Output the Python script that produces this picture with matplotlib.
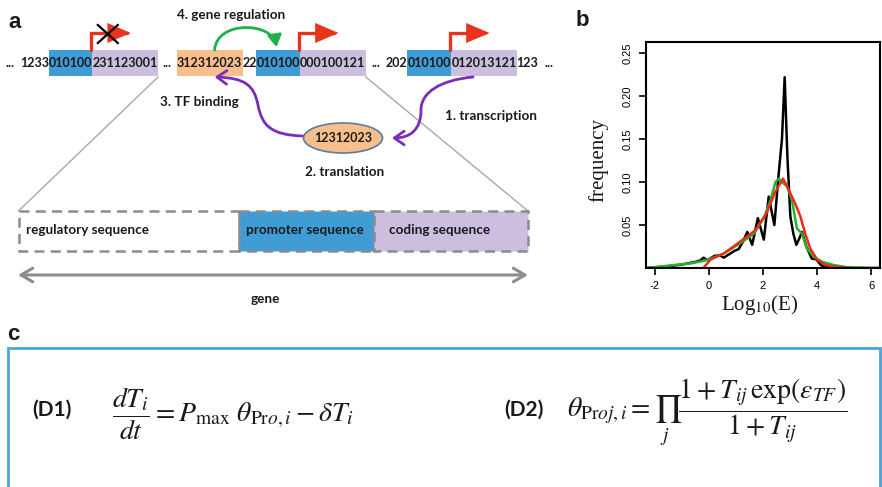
import matplotlib
matplotlib.use("Agg")
import matplotlib.pyplot as plt
from matplotlib.path import Path
from matplotlib.patches import FancyArrowPatch, Rectangle, Ellipse

plt.rcParams['mathtext.fontset'] = 'stix'
plt.rcParams['axes.unicode_minus'] = False

# ---------------- data for panel b ----------------
black_x = [-2.3, -1.5, -1.0, -0.5, -0.3, -0.2, -0.05, 0.2, 0.4, 0.55, 0.75, 0.95, 1.1, 1.25,
           1.42, 1.6, 1.81, 2.03, 2.21, 2.42, 2.58, 2.70, 2.80, 2.90, 3.01, 3.12, 3.23, 3.35,
           3.44, 3.6, 3.80, 3.97, 4.15, 4.4, 5.0, 6.3]
black_y = [0.0, 0.002, 0.004, 0.007, 0.009, 0.012, 0.009, 0.014, 0.015, 0.012, 0.016, 0.020,
           0.022, 0.030, 0.042, 0.027, 0.058, 0.033, 0.083, 0.050, 0.110, 0.150, 0.222, 0.130,
           0.060, 0.040, 0.027, 0.035, 0.042, 0.025, 0.011, 0.010, 0.003, 0.001, 0.0, 0.0]
green_x = [-2.3, -1.27, -0.66, -0.05, 0.56, 1.17, 1.66, 2.03, 2.28, 2.46, 2.58, 2.70, 2.89,
           3.07, 3.25, 3.44, 3.62, 3.87, 4.17, 4.60, 5.09, 6.0, 6.3]
green_y = [0.0, 0.0035, 0.0054, 0.0093, 0.017, 0.029, 0.040, 0.058, 0.079, 0.100, 0.104, 0.100,
           0.095, 0.079, 0.046, 0.040, 0.023, 0.013, 0.0074, 0.0035, 0.001, 0.0, 0.0]
red_x = [-0.20, 0.07, 0.56, 1.17, 1.72, 2.15, 2.46, 2.74, 2.95, 3.19, 3.38, 3.56, 3.74, 3.99,
         4.29, 4.84, 5.3]
red_y = [0.0, 0.010, 0.017, 0.031, 0.044, 0.065, 0.089, 0.104, 0.091, 0.075, 0.060, 0.040,
         0.023, 0.010, 0.0035, 0.0005, 0.0]
x_ticks = [-2, 0, 2, 4, 6]
y_ticks = [0.05, 0.10, 0.15, 0.20, 0.25]
y_tick_labels = ["0.05", "0.10", "0.15", "0.20", "0.25"]

# ---------------- text content for panel a ----------------
row1_pieces = ["...", "1233", "010100", "231123001"]
row1_kinds = [None, None, 'blue', 'purple']
row2_pieces = ["...", "312312023", "22", "010100", "000100121", "..."]
row2_kinds = [None, 'orange', None, 'blue', 'purple', None]
row3_pieces = ["202", "010100", "012013121", "123", "..."]
row3_kinds = [None, 'blue', 'purple', None, None]
protein_seq = "12312023"
step_labels = ["1. transcription", "2. translation", "3. TF binding", "4. gene regulation"]
gene_parts = ["regulatory sequence", "promoter sequence", "coding sequence"]

# ---------------- colours / layout ----------------
COLORS = {'blue': '#3F9CD4', 'purple': '#CBBEDE', 'orange': '#F8BF8C'}
BLUE, PURPLE, ORANGE = COLORS['blue'], COLORS['purple'], COLORS['orange']
RED = '#E8341C'
GREEN = '#1EB24A'
VIOLET = '#7A2DB8'
GRAY = '#8C8C8C'
TXT = '#1a1a1a'
SANS = 'Lato'

fig = plt.figure(figsize=(8.82, 4.87), dpi=100)
ax0 = fig.add_axes([0, 0, 1, 1])
ax0.set_xlim(0, 882)
ax0.set_ylim(487, 0)
ax0.axis('off')
renderer = fig.canvas.get_renderer()

FS = 9.0    # sequence digits
LFS = 9.7   # labels
BT, BB = 50, 76
SY = 63
GAP = 6     # space next to an ellipsis


def box(x0, x1, color, y0=BT, y1=BB, **kw):
    ax0.add_patch(Rectangle((x0, y0), x1 - x0, y1 - y0, facecolor=color, edgecolor='none',
                            zorder=1, **kw))


def row(x, pieces, kinds):
    """Lay the pieces out side by side; return the box extents of the coloured ones."""
    spans = []
    for i, (s, k) in enumerate(zip(pieces, kinds)):
        if s == "..." and i > 0:
            x += GAP
        t = ax0.text(x, SY, s, ha='left', va='center', fontsize=FS, fontweight='bold',
                     family=SANS, color=TXT, zorder=3)
        w = t.get_window_extent(renderer).width
        if k is not None:
            box(x - 0.3, x + w + 0.3, COLORS[k])
            spans.append((x - 0.3, x + w + 0.3))
        x = x + w
        if s == "..." and i == 0:
            x += GAP
    return spans


def label(x, y, s, ha='center'):
    ax0.text(x, y, s, ha=ha, va='center', fontsize=LFS, fontweight='bold', family=SANS, color=TXT)


r1 = row(5, row1_pieces, row1_kinds)
r2 = row(162, row2_pieces, row2_kinds)
r3 = row(386, row3_pieces, row3_kinds)

# gray zoom lines
GT, GB = 211, 251
ax0.plot([r1[1][1], 18.5], [77, GT], color='#A8A8A8', lw=1.0, zorder=0)
ax0.plot([r2[2][1], 528], [77, GT], color='#A8A8A8', lw=1.0, zorder=0)

# red promoter arrows at the promoter/coding boundary
for vx in [r1[0][1] - 2, r2[1][1] - 2, r3[0][1] - 2]:
    p = Path([(vx, BT), (vx, 33), (vx + 40, 33)], [Path.MOVETO, Path.LINETO, Path.LINETO])
    ax0.add_patch(FancyArrowPatch(path=p, arrowstyle='-|>,head_length=0.7,head_width=0.3',
                                  mutation_scale=18, color=RED, lw=2.4, joinstyle='miter'))
# black cross on the first promoter
cx = r1[0][1] + 15
ax0.plot([cx - 10, cx + 10], [25, 43], color='black', lw=1.6)
ax0.plot([cx - 10, cx + 10], [43, 25], color='black', lw=1.6)

# green regulation arc (orange site -> next promoter)
ox = (r2[0][0] + r2[0][1]) / 2 + 5
bx = r2[1][0] + 20
p = Path([(ox, BT), (ox + 2, 20), (bx - 4, 22), (bx, 47)],
         [Path.MOVETO, Path.CURVE4, Path.CURVE4, Path.CURVE4])
ax0.add_patch(FancyArrowPatch(path=p, arrowstyle='-|>,head_length=0.5,head_width=0.3',
                              mutation_scale=14, color=GREEN, lw=2.0))

# purple arrows
sx = r3[1][0] + 22
p = Path([(sx, 77), (sx - 32, 80), (421, 92), (421, 110), (421, 130), (410, 138), (392, 138)],
         [Path.MOVETO, Path.CURVE4, Path.CURVE4, Path.CURVE4, Path.CURVE4, Path.CURVE4, Path.CURVE4])
ax0.add_patch(FancyArrowPatch(path=p, arrowstyle='->,head_length=0.5,head_width=0.35',
                              mutation_scale=14, color=VIOLET, lw=2.0))
p = Path([(303, 136), (270, 135), (262, 125), (258, 105), (254, 85), (245, 78), (ox, 77)],
         [Path.MOVETO, Path.CURVE4, Path.CURVE4, Path.CURVE4, Path.CURVE4, Path.CURVE4, Path.CURVE4])
ax0.add_patch(FancyArrowPatch(path=p, arrowstyle='->,head_length=0.5,head_width=0.35',
                              mutation_scale=14, color=VIOLET, lw=2.0))

# protein ellipse
ax0.add_patch(Ellipse((343, 138), 79, 30, facecolor=ORANGE, edgecolor='#5B7BA0', lw=1.2))
ax0.text(343, 138, protein_seq, ha='center', va='center', fontsize=FS, fontweight='bold',
         family=SANS, color=TXT)

# step labels
label(491, 116, step_labels[0])
label(345, 172, step_labels[1])
label(199, 102, step_labels[2])
label(231, 15, step_labels[3])

# gene structure box
for (x0, x1, col) in [(18.5, 239, 'white'), (239, 374, BLUE), (374, 528, PURPLE)]:
    ax0.add_patch(Rectangle((x0, GT), x1 - x0, GB - GT, facecolor=col, edgecolor=GRAY,
                            lw=1.8, linestyle=(0, (4, 2.5))))
label(26, 230, gene_parts[0], 'left')
label(305, 230, gene_parts[1])
label(440, 230, gene_parts[2])
ax0.annotate('', xy=(18, 275), xytext=(528, 275),
             arrowprops=dict(arrowstyle='<->,head_length=0.6,head_width=0.35', color=GRAY, lw=2.2,
                             mutation_scale=14, shrinkA=0, shrinkB=0))
label(265, 299, "gene")

# panel letters
for (x, y, s) in [(15, 22, 'a'), (582, 20, 'b'), (13, 334, 'c')]:
    ax0.text(x, y, s, ha='center', va='center', fontsize=16, fontweight='bold',
             family='Liberation Sans', color=TXT)

# panel c frame and equations
ax0.plot([8, 8, 880, 880], [490, 348, 348, 490], color='#4FA3D9', lw=2.0, solid_joinstyle='miter')
ax0.text(52, 410, "(D1)", ha='center', va='center', fontsize=15, fontweight='bold', family=SANS, color=TXT)
ax0.text(524, 410, "(D2)", ha='center', va='center', fontsize=15, fontweight='bold', family=SANS, color=TXT)
ax0.text(112, 414, r'$\dfrac{dT_i}{dt} = P_{\max}\ \theta_{\mathrm{Pr}o,i} - \delta T_i$',
         ha='left', va='center', fontsize=20, color=TXT)
ax0.text(567, 412, r'$\theta_{\mathrm{Pr}oj,i} = \prod_j \dfrac{1+T_{ij}\,\exp(\varepsilon_{TF})}{1+T_{ij}}$',
         ha='left', va='center', fontsize=20, color=TXT)

# ---------------- panel b ----------------
L, R, T, B = 646, 880, 42, 268
axb = fig.add_axes([L / 882, 1 - B / 487, (R - L) / 882, (B - T) / 487])
axb.plot(black_x, black_y, color='black', lw=1.8)
axb.plot(green_x, green_y, color='#22B32A', lw=1.8)
axb.plot(red_x, red_y, color='#EE2A1B', lw=1.8)
axb.set_xlim(-2.32, 6.32)
axb.set_ylim(0, 0.263)
axb.set_xticks(x_ticks)
axb.set_xticklabels([str(v) for v in x_ticks])
axb.set_yticks(y_ticks)
axb.set_yticklabels(y_tick_labels)
for sp in axb.spines.values():
    sp.set_linewidth(1.5)
axb.tick_params(direction='out', length=5, width=1.2, pad=4.5, labelsize=8)
for lab in axb.get_xticklabels() + axb.get_yticklabels():
    lab.set_family('Liberation Sans')
for lab in axb.get_yticklabels():
    lab.set_rotation(90)
    lab.set_va('center')
ax0.text(598, 160, 'frequency', rotation=90, ha='center', va='center', fontsize=15,
         family='Liberation Serif', color=TXT)
ax0.text(760, 305, r'Log$_{10}$(E)', ha='center', va='center', fontsize=15,
         family='Liberation Serif', color=TXT)

fig.savefig('out.png', dpi=100)
